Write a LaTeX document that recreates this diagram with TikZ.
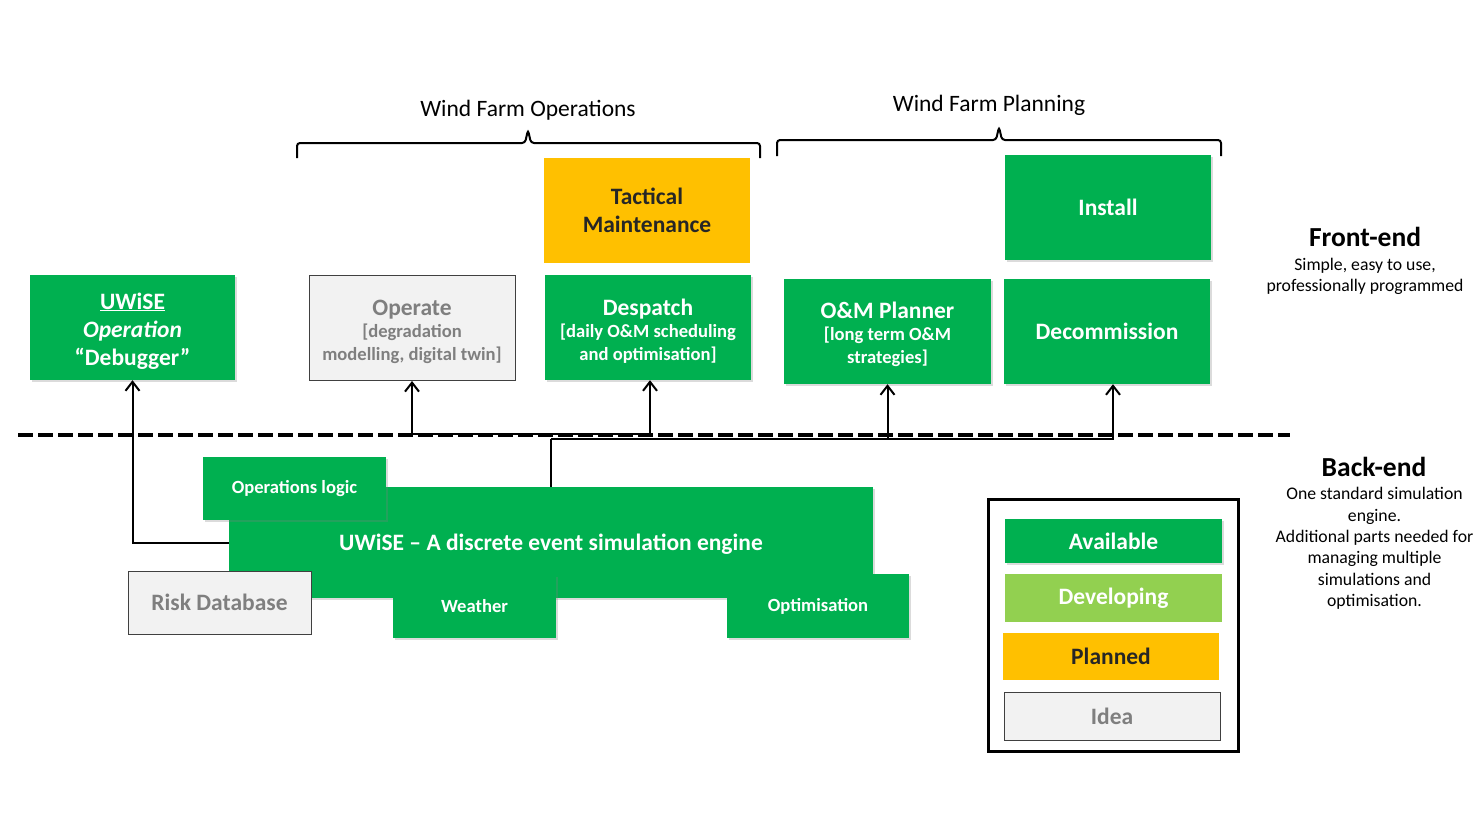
\documentclass[tikz,border=0pt]{standalone}
\usepackage{fontspec}
\setmainfont{Carlito}
\usetikzlibrary{arrows.meta,shadows}
\definecolor{gGreen}{HTML}{00B050}
\definecolor{lGreen}{HTML}{92D050}
\definecolor{amber}{HTML}{FFC000}
\definecolor{ideaFill}{HTML}{F2F2F2}
\definecolor{ideaText}{HTML}{7F7F7F}
\definecolor{ideaLine}{HTML}{404040}
\definecolor{darkText}{HTML}{262626}
\newcommand{\tsz}{\fontsize{23.5}{28}\selectfont}
\newcommand{\ssz}{\fontsize{18.6}{23}\selectfont}
\newcommand{\lsz}{\fontsize{23.5}{26}\selectfont}
\newcommand{\msz}{\fontsize{18.6}{22}\selectfont}
\newcommand{\lift}{\rule{0pt}{23pt}}
\begin{document}
\begin{tikzpicture}[x=1pt,y=-1pt,
  box/.style={rectangle,inner sep=0pt,align=center},
  shad/.style={drop shadow={opacity=0.28,shadow xshift=2pt,shadow yshift=-2pt}},
  avail/.style={box,fill=gGreen,text=white,shad},
  devel/.style={box,fill=lGreen,text=white},
  plan/.style={box,fill=amber,text=darkText},
  idea/.style={box,fill=ideaFill,draw=ideaLine,line width=1pt,text=ideaText},
  big/.style={minimum width=206,minimum height=105},
  ttl/.style={font=\bfseries\tsz},
  sub/.style={font=\bfseries\ssz},
  conn/.style={line width=2pt,draw=black},
  arr/.style={conn,-{Straight Barb[length=9pt,width=14pt,line width=2pt]}},
  lbl/.style={inner sep=0pt,align=center,text=black}
]
\path[use as bounding box,fill=white] (0,0) rectangle (1484,835);

% ---- front-end boxes
\node[avail,big,ttl,minimum width=205] (dbg) at (132.5,327.5)
  {\lift\underline{UWiSE}\\\textit{Operation}\\“Debugger”};
\node[idea,big,sub] (op) at (412,328)
  {\lift{\tsz Operate}\\[-1pt]{[}degradation\\modelling, digital twin{]}};
\node[plan,big,ttl] (tac) at (647,210.5) {Tactical\\Maintenance};
\node[avail,big,sub] (desp) at (648,327.5)
  {\lift{\tsz Despatch}\\[-1pt]{[}daily O\&M scheduling\\and optimisation{]}};
\node[avail,big,sub,minimum width=207] (om) at (887.5,331.5)
  {\lift{\tsz O\&M Planner}\\[-1pt]{[}long term O\&M\\strategies{]}};
\node[avail,big,ttl] (inst) at (1108,207.5) {Install};
\node[avail,big,ttl] (dec) at (1107,331.5) {Decommission};

% ---- braces and group titles
\draw[line width=2pt,rounded corners=3pt] (297,158) -- (297,143) -- (525,143) -- (528,130) -- (531,143) -- (760,143) -- (760,158);
\draw[line width=2pt,rounded corners=3pt] (777,156) -- (777,140) -- (996,140) -- (999,127) -- (1002,140) -- (1221,140) -- (1221,156);
\node[lbl,font=\fontsize{23.5}{28}\selectfont] (wfo) at (528,110) {Wind Farm Operations};
\node[lbl,font=\fontsize{23.5}{28}\selectfont] (wfp) at (989,105) {Wind Farm Planning};

% ---- side notes
\node[lbl,font=\fontsize{27.5}{32}\selectfont\bfseries] (fe) at (1365,237) {Front-end};
\node[lbl,font=\fontsize{17.7}{21.5}\selectfont] (fes) at (1365,276.5) {Simple, easy to use,\\professionally programmed};
\node[lbl,font=\fontsize{27.5}{32}\selectfont\bfseries] (be) at (1374,467) {Back-end};
\node[lbl,font=\fontsize{17.7}{21.4}\selectfont] (bes) at (1374.5,548.5) {One standard simulation\\engine.\\Additional parts needed for\\managing multiple\\simulations and\\optimisation.};

% ---- back-end boxes
\node[avail,ttl,minimum width=644,minimum height=111] (eng) at (551,542.5)
  {\rule{0pt}{20pt}UWiSE – A discrete event simulation engine};
\node[avail,font=\bfseries\msz,minimum width=183,minimum height=63] (ol) at (294.5,488.5) {Operations logic};
\node[idea,font=\bfseries\lsz,minimum width=183,minimum height=63] (risk) at (219.5,602.5) {Risk Database};
\node[avail,font=\bfseries\msz,minimum width=163,minimum height=63] (wx) at (474.5,606.5) {Weather};
\node[avail,font=\bfseries\msz,minimum width=182,minimum height=64] (opt) at (818,606) {Optimisation};

% ---- connectors
\coordinate (jt) at (551,434);
\coordinate (jb) at (551,439);
\draw[conn] (eng.north) -- (jb);
\draw[arr] (jt) -| (op.south);
\draw[arr] (jt) -| ([xshift=2pt]desp.south);
\draw[arr] (jb) -| (om.south);
\draw[arr] (jb) -| ([xshift=6pt]dec.south);
\draw[arr] (eng.west) -| (dbg.south);

% ---- front/back divider
\coordinate (dl) at (18,435);
\coordinate (dr) at (1290,435);
\draw[line width=4pt,dash pattern=on 15pt off 5pt] (dl) -- (dr);

% ---- legend
\node[draw=black,line width=3pt,minimum width=250,minimum height=252,inner sep=0pt] (leg) at (1113,625) {};
\node[avail,font=\bfseries\lsz,minimum width=217,minimum height=44] (lav) at (1113.5,541) {Available};
\node[devel,font=\bfseries\lsz,minimum width=217,minimum height=48] (ldv) at (1113.5,598) {Developing};
\node[plan,font=\bfseries\lsz,minimum width=216,minimum height=47] (lpl) at (1111,656.5) {Planned};
\node[idea,font=\bfseries\lsz,minimum width=216,minimum height=48] (lid) at (1112,716) {Idea};
\end{tikzpicture}
\end{document}
